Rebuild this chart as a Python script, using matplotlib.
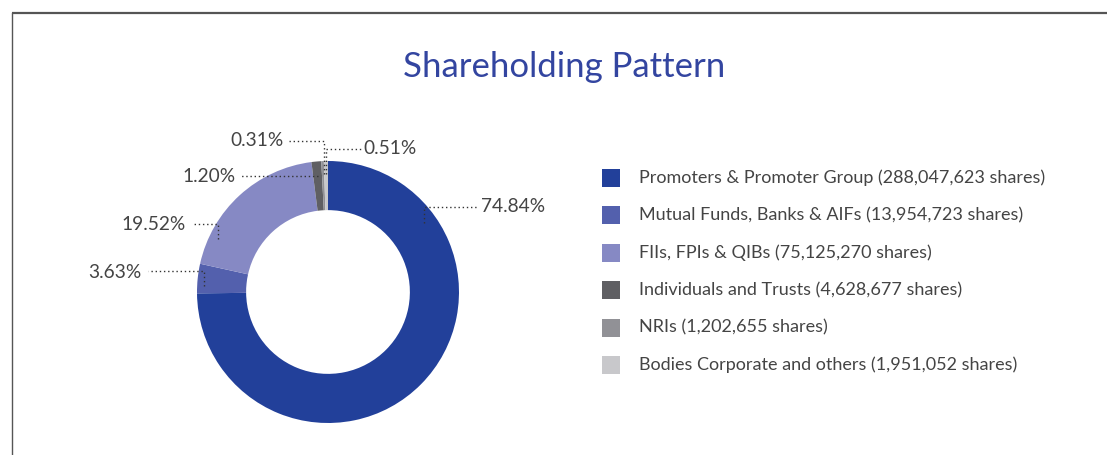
import matplotlib
matplotlib.use("Agg")
import matplotlib.pyplot as plt

# data
categories = ["Promoters & Promoter Group", "Mutual Funds, Banks & AIFs", "FIIs, FPIs & QIBs",
              "Individuals and Trusts", "NRIs", "Bodies Corporate and others"]
shares = [288047623, 13954723, 75125270, 4628677, 1202655, 1951052]
pct_labels = ["74.84%", "3.63%", "19.52%", "1.20%", "0.31%", "0.51%"]
colors = ["#22409a", "#5360ad", "#8689c4", "#5f5f63", "#919196", "#c8c8cb"]

W, H = 1107, 455
fig = plt.figure(figsize=(W / 100, H / 100), dpi=100)
ax = fig.add_axes([0, 0, 1, 1])
ax.set_xlim(0, W)
ax.set_ylim(0, H)
ax.set_aspect("equal")
ax.axis("off")

def py(y):
    # pixel row (from top) -> data y
    return H - y

plt.rcParams["font.family"] = ["Lato", "DejaVu Sans"]
txt_col = "#444444"

# frame
ax.plot([12, W], [py(12.5), py(12.5)], color="#555555", lw=1.6, solid_capstyle="butt")
ax.plot([12, 12], [py(12.5), 0], color="#555555", lw=1.0)

ax.text(564, py(67), "Shareholding Pattern", color="#3345a0", fontsize=25,
        ha="center", va="center")

cx, cy, r = 328, py(292), 131
ax.pie(shares, colors=colors, startangle=90, counterclock=False, center=(cx, cy),
       radius=r, wedgeprops=dict(width=r * 0.375, linewidth=0), frame=True)
ax.set_xlim(0, W)
ax.set_ylim(0, H)
ax.axis("off")

# leader lines: (points along the dotted line), label position, alignment
leaders = [
    ([(424, 223), (424, 207), (478, 207)], (481, 207), "left"),
    ([(204, 286), (204, 271), (148, 271)], (141, 272), "right"),
    ([(218, 239), (218, 224), (193, 224)], (186, 224), "right"),
    ([(318, 176), (240, 176)], (236, 176), "right"),
    ([(324, 174), (324, 141), (289, 141)], (284, 141), "right"),
    ([(326, 174), (326, 149), (361, 149)], (363, 149), "left"),
]
for (pts, (tx, ty), ha), lab in zip(leaders, pct_labels):
    xs = [p[0] for p in pts]
    ys = [py(p[1]) for p in pts]
    ax.plot(xs, ys, color="#333333", lw=1.0, linestyle=(0, (1, 2)))
    ax.text(tx, py(ty), lab, color=txt_col, fontsize=13.8, ha=ha, va="center")

# legend
legend_texts = ["Promoters & Promoter Group (288,047,623 shares)",
                "Mutual Funds, Banks & AIFs (13,954,723 shares)",
                "FIIs, FPIs & QIBs (75,125,270 shares)",
                "Individuals and Trusts (4,628,677 shares)",
                "NRIs (1,202,655 shares)",
                "Bodies Corporate and others (1,951,052 shares)"]
for i, (t, c) in enumerate(zip(legend_texts, colors)):
    yy = py(178 + i * 37.4)
    ax.add_patch(plt.Rectangle((602, yy - 9), 18, 18, color=c, lw=0))
    ax.text(639, yy, t, color=txt_col, fontsize=13, ha="left", va="center")

fig.savefig("out.png", dpi=100)
